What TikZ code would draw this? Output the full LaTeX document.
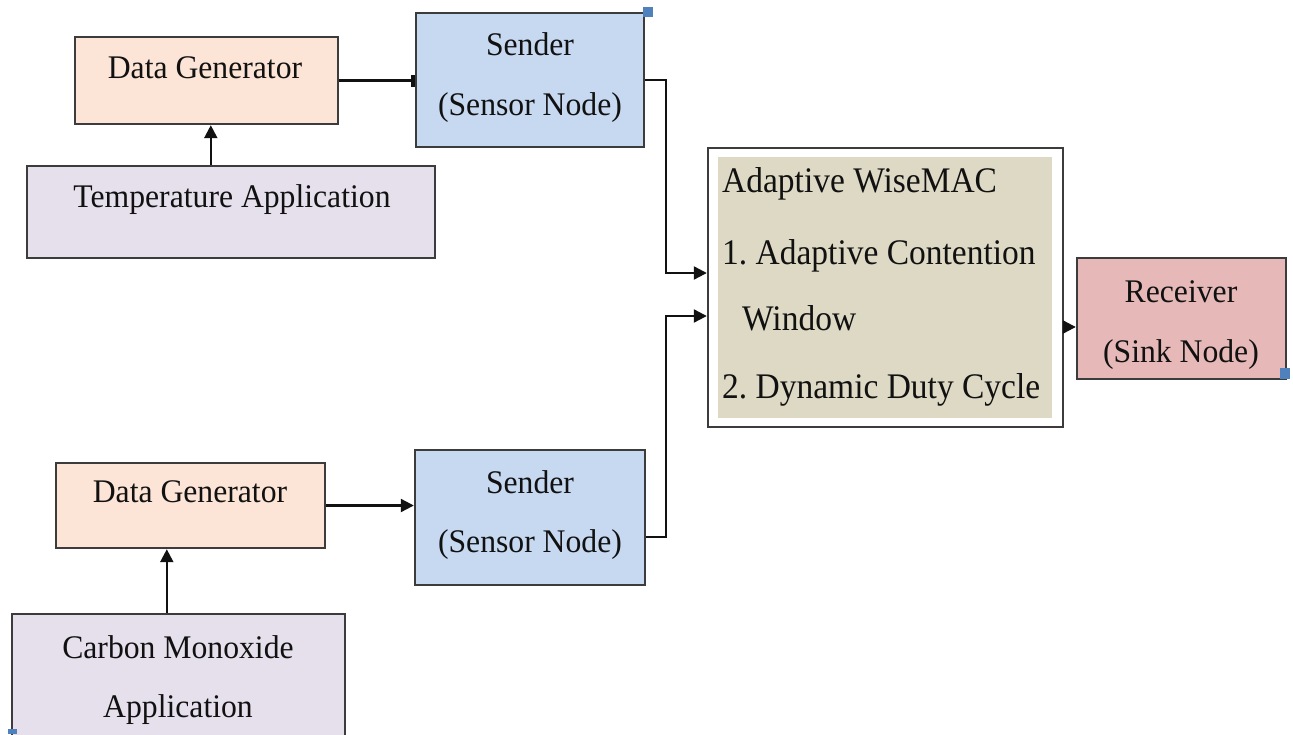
\documentclass[tikz,border=0pt]{standalone}
\usepackage{fontspec}
\setmainfont{Liberation Serif}
\newfontfamily\boxfont[FakeStretch=0.96]{Liberation Serif}
\newfontfamily\macfont[FakeStretch=0.93]{Liberation Serif}
\usetikzlibrary{arrows.meta}
\frenchspacing

\definecolor{edge}{HTML}{3C3C3C}
\definecolor{ink}{HTML}{111111}
\definecolor{peach}{HTML}{FCE4D6}
\definecolor{lavender}{HTML}{E5E0EC}
\definecolor{skyfill}{HTML}{C6D9F1}
\definecolor{khaki}{HTML}{DDD9C4}
\definecolor{rosefill}{HTML}{E6B9B8}
\definecolor{handle}{HTML}{4F81BD}

\begin{document}
\begin{tikzpicture}[x=1pt,y=-1pt,
  box/.style={draw=edge, line width=2.4pt, inner sep=0pt, rectangle},
  gen/.style={box, fill=peach},
  app/.style={box, fill=lavender},
  sensor/.style={box, fill=skyfill},
  sink/.style={box, fill=rosefill},
  lbl/.style={font=\boxfont\fontsize{33}{38}\selectfont, text=ink, inner sep=0pt, anchor=base},
  biglbl/.style={font=\macfont\fontsize{36}{40}\selectfont, text=ink, inner sep=0pt, anchor=base west},
  arr/.style={draw=ink, line width=2.2pt, -{Triangle[length=13pt,width=13pt]}},
  stubarr/.style={draw=ink, line width=2.2pt, -{Rectangle[length=4pt,width=12pt]}}
]
\useasboundingbox (0,0) rectangle (1293,734);
\fill[white] (0,0) rectangle (1293,734);
\clip (0,0) rectangle (1293,734);

% upper branch
\node[gen, minimum width=263pt, minimum height=87pt] (dg1) at (206.5,80.5) {};
\node[app, minimum width=408pt, minimum height=92pt] (ta) at (231,212) {};
\node[sensor, minimum width=228pt, minimum height=134pt] (s1) at (530,80) {};

% lower branch
\node[gen, minimum width=269pt, minimum height=85pt] (dg2) at (190.5,505.5) {};
\node[sensor, minimum width=230pt, minimum height=135pt] (s2) at (530,517.5) {};
\node[app, minimum width=333pt, minimum height=150pt] (co) at (178.5,689) {};

% MAC block and sink
\node[box, fill=white, minimum width=355pt, minimum height=279pt] (aw) at (885.5,287.5) {};
\fill[khaki] ([xshift=11pt,yshift=-10pt]aw.north west) rectangle ([xshift=-12pt,yshift=10pt]aw.south east);
\node[sink, minimum width=209pt, minimum height=121pt] (rec) at (1181.5,318.5) {};

% labels
\node[lbl] (dg1a) at (205,78) {Data Generator};
\node[lbl] (taa) at (232,207) {Temperature Application};
\node[lbl] (s1a) at (530,55) {Sender};
\node[lbl] (s1b) at (530,115) {(Sensor Node)};
\node[lbl] (dg2a) at (190,502) {Data Generator};
\node[lbl] (s2a) at (530,493) {Sender};
\node[lbl] (s2b) at (530,552) {(Sensor Node)};
\node[lbl] (coa) at (178,658) {Carbon Monoxide};
\node[lbl] (cob) at (178,717) {Application};
\node[lbl] (reca) at (1181,302) {Receiver};
\node[lbl] (recb) at (1181,362) {(Sink Node)};
\node[biglbl] (awa) at (722,192) {Adaptive WiseMAC};
\node[biglbl] (awb) at (722,264) {1. Adaptive Contention};
\node[biglbl] (awc) at (742,330) {Window};
\node[biglbl] (awd) at (722,398) {2. Dynamic Duty Cycle};

% connectors
\draw[arr] ([xshift=185pt]ta.north west) -- ([xshift=137pt]dg1.south west);
\draw[stubarr] (dg1.east) -- (dg1.east -| s1.west);
\draw[arr] ([xshift=156pt]co.north west) -- ([xshift=112pt]dg2.south west);
\draw[arr] (dg2.east) -- (dg2.east -| s2.west);
\draw[arr] (s1.east) -- ++(21,0) |- ([yshift=14.5pt]aw.west);
\draw[arr] ([yshift=-19.5pt]s2.east) -- ++(20,0) |- ([yshift=-28.5pt]aw.west);
\draw[arr] ([yshift=-39.5pt]aw.east) -- ([yshift=-39.5pt]aw.east -| rec.west);

% selection handles
\fill[handle] (643,7) rectangle (653,17);
\fill[handle] (1280,368) rectangle (1290,379);
\fill[handle] (8,729) rectangle (17,734);
\end{tikzpicture}
\end{document}
